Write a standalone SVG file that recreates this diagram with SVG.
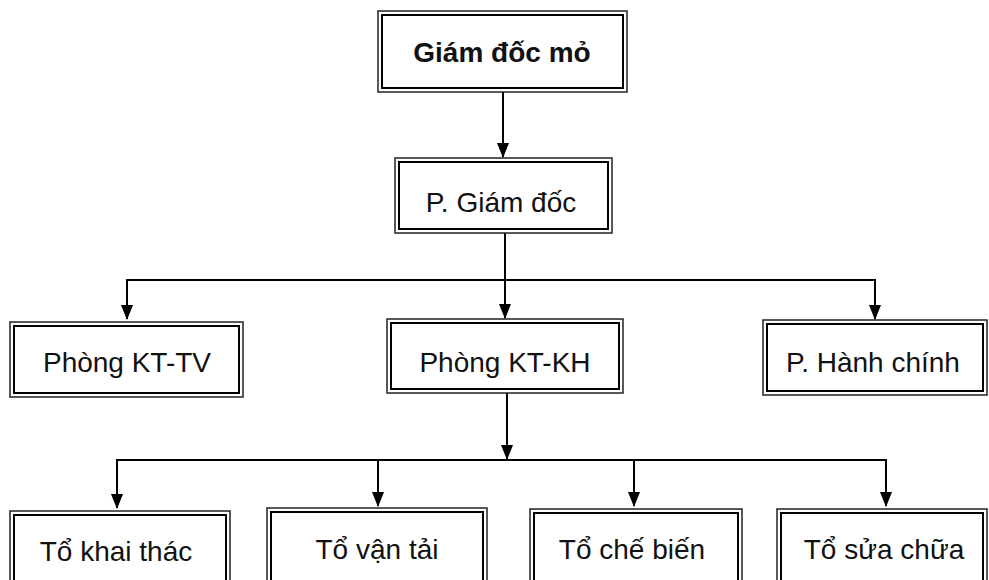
<svg xmlns="http://www.w3.org/2000/svg" width="989" height="580" viewBox="0 0 989 580">
<style>
.o{fill:#fff;stroke:#222;stroke-width:1.5}
.i{fill:none;stroke:#000;stroke-width:2}
.t{font-family:"Liberation Sans",Arial,sans-serif;font-size:28px;fill:#111;text-anchor:middle}
.b{font-weight:bold}
.c{fill:none;stroke:#000;stroke-width:2}
</style>
<defs>
<marker id="ah" markerWidth="15" markerHeight="12" refX="14" refY="6" orient="auto" markerUnits="userSpaceOnUse">
<path d="M0,0 L15,6 L0,12 Z" fill="#000"/>
</marker>
</defs>
<rect width="989" height="580" fill="#fff"/>
<g id="connectors">
<line class="c" x1="503" y1="92" x2="503" y2="157" marker-end="url(#ah)"/>
<line class="c" x1="505" y1="233" x2="505" y2="318" marker-end="url(#ah)"/>
<polyline class="c" points="127,318 127,280 875,280 875,318" />
<line class="c" x1="127" y1="300" x2="127" y2="319" marker-end="url(#ah)"/>
<line class="c" x1="875" y1="300" x2="875" y2="319" marker-end="url(#ah)"/>
<line class="c" x1="507" y1="393" x2="507" y2="459" marker-end="url(#ah)"/>
<polyline class="c" points="117,490 117,460 886,460 886,490"/>
<line class="c" x1="117" y1="490" x2="117" y2="508" marker-end="url(#ah)"/>
<line class="c" x1="378" y1="460" x2="378" y2="506" marker-end="url(#ah)"/>
<line class="c" x1="634" y1="460" x2="634" y2="506" marker-end="url(#ah)"/>
<line class="c" x1="886" y1="490" x2="886" y2="506" marker-end="url(#ah)"/>
</g>
<g id="giam-doc-mo">
<rect class="o" x="378" y="11" width="249" height="81"/>
<rect class="i" x="382" y="15" width="241" height="73"/>
<text class="t b" x="502" y="62">Giám đốc mỏ</text>
</g>
<g id="p-giam-doc">
<rect class="o" x="395" y="158" width="217" height="75"/>
<rect class="i" x="399" y="162" width="209" height="67"/>
<text class="t" x="501" y="212">P. Giám đốc</text>
</g>
<g id="phong-kt-tv">
<rect class="o" x="10" y="322" width="233" height="75"/>
<rect class="i" x="14" y="326" width="225" height="67"/>
<text class="t" x="127" y="372">Phòng KT-TV</text>
</g>
<g id="phong-kt-kh">
<rect class="o" x="387" y="319" width="236" height="74"/>
<rect class="i" x="391" y="323" width="228" height="66"/>
<text class="t" x="505" y="372">Phòng KT-KH</text>
</g>
<g id="p-hanh-chinh">
<rect class="o" x="763" y="320" width="224" height="75"/>
<rect class="i" x="767" y="324" width="216" height="67"/>
<text class="t" x="873" y="372">P. Hành chính</text>
</g>
<g id="to-khai-thac">
<rect class="o" x="10" y="511" width="220" height="80"/>
<rect class="i" x="14" y="515" width="212" height="80"/>
<text class="t" x="116" y="561">Tổ khai thác</text>
</g>
<g id="to-van-tai">
<rect class="o" x="267" y="508" width="220" height="80"/>
<rect class="i" x="271" y="512" width="212" height="80"/>
<text class="t" x="377" y="559">Tổ vận tải</text>
</g>
<g id="to-che-bien">
<rect class="o" x="530" y="509" width="212" height="80"/>
<rect class="i" x="534" y="513" width="204" height="80"/>
<text class="t" x="632" y="559">Tổ chế biến</text>
</g>
<g id="to-sua-chua">
<rect class="o" x="777" y="509" width="210" height="80"/>
<rect class="i" x="781" y="513" width="202" height="80"/>
<text class="t" x="884" y="559">Tổ sửa chữa</text>
</g>
</svg>
